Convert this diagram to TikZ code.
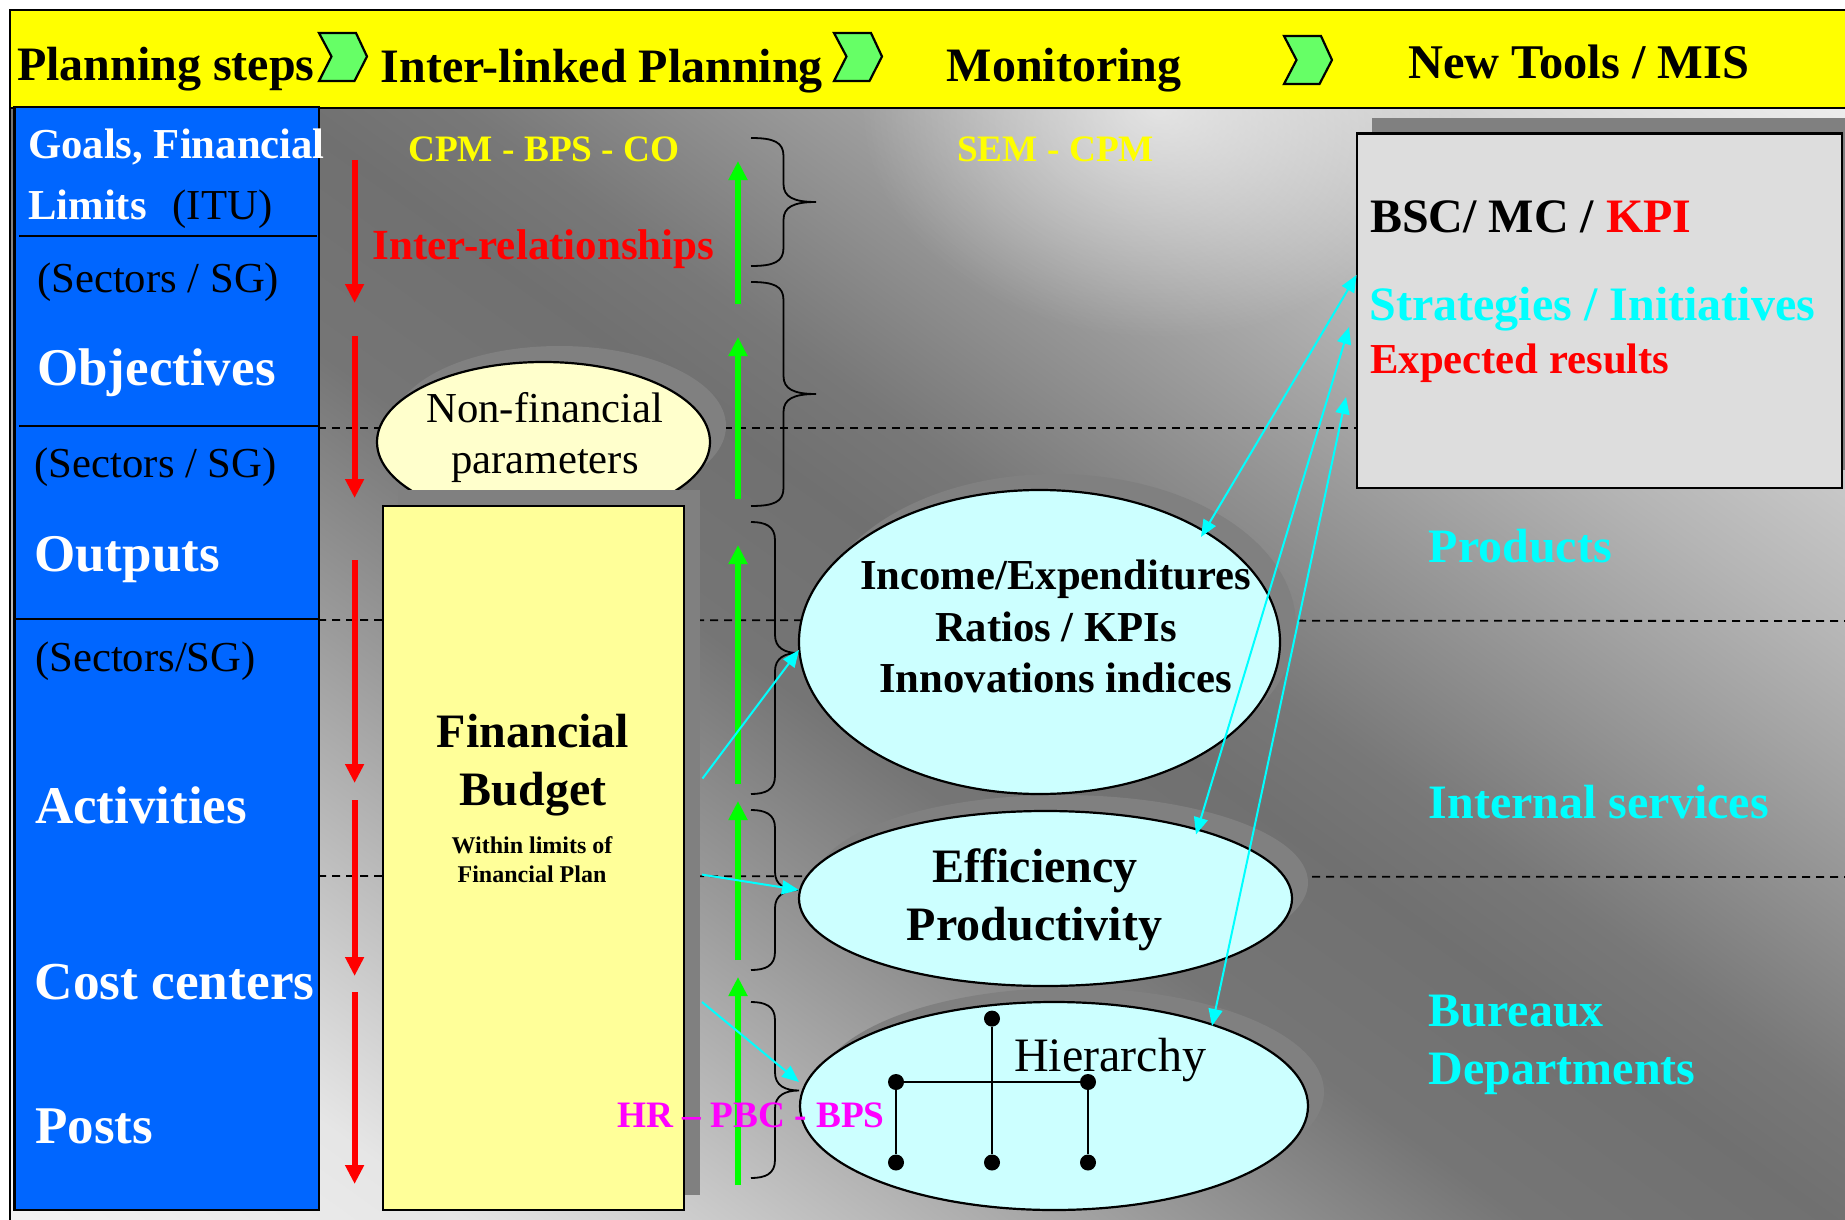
\documentclass[tikz,border=0pt]{standalone}
\usepackage{fontspec}
\setmainfont{Liberation Serif}
\usetikzlibrary{arrows.meta,shapes.geometric,fadings}
\definecolor{gA}{gray}{0.95}
\definecolor{gB}{gray}{0.90}
\definecolor{gC}{gray}{0.61}
\definecolor{gD}{gray}{0.44}
\definecolor{gE}{gray}{0.64}
\definecolor{gF}{gray}{0.71}
\definecolor{gG}{gray}{0.84}
\definecolor{gH}{gray}{0.93}
\definecolor{gI}{gray}{0.46}
\definecolor{gJ}{gray}{0.47}
\definecolor{blueBox}{HTML}{0066FF}
\definecolor{shadowG}{HTML}{808080}
\definecolor{chev}{HTML}{66FF66}
\definecolor{ltYellow}{HTML}{FFFFCC}
\definecolor{budgetY}{HTML}{FFFF99}
\definecolor{ltCyan}{HTML}{CCFFFF}
\definecolor{boxG}{HTML}{DDDDDD}
\definecolor{pureY}{HTML}{FFFF00}
\definecolor{pureC}{HTML}{00FFFF}
\definecolor{pureM}{HTML}{FF00FF}
\definecolor{pureR}{HTML}{FF0000}
\definecolor{pureG}{HTML}{00FF00}
\pgfdeclareverticalshading{bgshade}{100bp}{color(0bp)=(gA);color(32.33bp)=(gA);color(36.67bp)=(gB);color(43.33bp)=(gC);color(47bp)=(gI);color(50bp)=(gD);color(51.67bp)=(gJ);color(56bp)=(gE);color(57.83bp)=(gF);color(61.67bp)=(gG);color(65.17bp)=(gH);color(100bp)=(gH)}
\tikzfading[name=topglow,inner color=transparent!40,outer color=transparent!100]
\newcommand\fXLb{\fontsize{53}{56}\selectfont\bfseries}
\newcommand\fLb{\fontsize{48}{52}\selectfont\bfseries}
\newcommand\fLr{\fontsize{48}{52}\selectfont}
\newcommand\fMb{\fontsize{42.7}{46}\selectfont\bfseries}
\newcommand\fMr{\fontsize{42.7}{46}\selectfont}
\newcommand\fSb{\fontsize{37.3}{40}\selectfont\bfseries}
\newcommand\fXSb{\fontsize{24}{26}\selectfont\bfseries}
\tikzset{
  x=1pt,y=-1pt,
  lbl/.style={inner sep=0pt,anchor=base west},
  clbl/.style={inner sep=0pt,anchor=base},
  redarr/.style={draw=pureR,line width=6pt,-{Triangle[width=18pt,length=19pt,fill=pureR]}},
  grnarr/.style={draw=pureG,line width=6pt,-{Triangle[width=18pt,length=19pt,fill=pureG]}},
  cyanarr/.style={draw=pureC,line width=2pt,-{Triangle[width=14pt,length=17pt,fill=pureC]}},
  cyanboth/.style={draw=pureC,line width=2pt,{Triangle[width=14pt,length=17pt,fill=pureC]}-{Triangle[width=14pt,length=17pt,fill=pureC]}},
  dashln/.style={draw=black,line width=1.8pt,dash pattern=on 8pt off 6pt},
  bracel/.style={draw=black,line width=1.8pt},
  ell/.style={ellipse,draw=black,line width=2.2pt,inner sep=0pt},
  shad/.style={ellipse,fill=shadowG,inner sep=0pt},
  chevron/.style={draw=black,line width=2.2pt,fill=chev,line join=miter},
  dotn/.style={circle,fill=black,inner sep=0pt,minimum size=16pt},
  treel/.style={draw=black,line width=2.5pt},
}
\newcommand\curly[6]{%
 \draw[bracel] (#1,#4) .. controls ({#2-10},#4) and (#2,{#4+4}) .. (#2,{#4+18})
   -- (#2,{#5-18}) .. controls (#2,{#5-5}) and ({#2+10},#5) .. (#3,#5)
   .. controls ({#2+10},#5) and (#2,{#5+5}) .. (#2,{#5+18})
   -- (#2,{#6-18}) .. controls (#2,{#6-4}) and ({#2-10},#6) .. (#1,#6);}
\begin{document}
\begin{tikzpicture}
\useasboundingbox (0,0) rectangle (1845,1220);
\fill[white] (0,0) rectangle (1845,1220);
% background
\begin{scope}
\clip (10,108) rectangle (1845,1220);
\shade[shading=bgshade,shading angle=-35.7] (-444,-839) rectangle (2556,2161);
\fill[white,path fading=topglow] (1160,108) ellipse [x radius=300,y radius=230];
\end{scope}
% left frame line
\draw[black,line width=2.2pt] (10,108) -- (10,1220);
% dashed lines
\coordinate (dA0) at (318,428); \coordinate (dA1) at (1357,428);
\coordinate (dB0) at (318,620); \coordinate (dB1) at (1845,621);
\coordinate (dC0) at (318,876); \coordinate (dC1) at (1845,877);
\draw[dashln] (dA0) -- (dA1);
\draw[dashln] (dB0) -- (dB1);
\draw[dashln] (dC0) -- (dC1);
% yellow band
\draw[black,line width=2.5pt,fill=pureY] (10,10) rectangle (1850,108);
\draw[chevron] (319,33) -- (356,33) -- (367,56.5) -- (354.5,81) -- (319,81) -- (331.5,56.5) -- cycle;
\draw[chevron] (834,33) -- (871,33) -- (882,56.5) -- (869.5,81) -- (834,81) -- (846.5,56.5) -- cycle;
\draw[chevron] (1284,36) -- (1321,36) -- (1332,60) -- (1319.5,84) -- (1284,84) -- (1296.5,60) -- cycle;
\node[lbl,font=\fLb] (hA) at (17,81) {Planning steps};
\node[lbl,font=\fLb] (hB) at (380.5,83) {Inter-linked Planning};
\node[lbl,font=\fLb] (hC) at (946.5,82) {Monitoring};
\node[lbl,font=\fontsize{48.4}{52}\selectfont\bfseries] (hD) at (1408,79) {New Tools / MIS};
% blue column
\draw[black,line width=2.2pt,fill=blueBox] (14.5,107) rectangle (319,1210);
\coordinate (bA0) at (19,236); \coordinate (bA1) at (317,236);
\coordinate (bB0) at (19,426); \coordinate (bB1) at (319,426);
\coordinate (bC0) at (14,619); \coordinate (bC1) at (319,619);
\draw[black,line width=2.2pt] (bA0) -- (bA1);
\draw[black,line width=2.2pt] (bB0) -- (bB1);
\draw[black,line width=2.2pt] (bC0) -- (bC1);
\node[lbl,font=\fMb,text=white] (cA) at (28,159) {Goals, Financial};
\node[lbl,font=\fMb,text=white] (cB) at (28,219) {Limits};
\node[lbl,font=\fMr] (cC) at (172.5,219) {(ITU)};
\node[lbl,font=\fMr] (cD) at (37,292) {(Sectors / SG)};
\node[lbl,font=\fXLb,text=white] (cE) at (37,385) {Objectives};
\node[lbl,font=\fMr] (cF) at (34.5,477) {(Sectors / SG)};
\node[lbl,font=\fXLb,text=white] (cG) at (34,571) {Outputs};
\node[lbl,font=\fMr] (cH) at (35,671) {(Sectors/SG)};
\node[lbl,font=\fXLb,text=white] (cI) at (35,823) {Activities};
\node[lbl,font=\fontsize{53.3}{56}\selectfont\bfseries,text=white] (cJ) at (34.5,999) {Cost centers};
\node[lbl,font=\fXLb,text=white] (cK) at (35,1143) {Posts};
% non-financial ellipse
\node[shad,minimum width=333pt,minimum height=160pt] (nfS) at (559.5,426) {};
\node[ell,fill=ltYellow,minimum width=333pt,minimum height=160pt] (nf) at (543.5,442) {};
\node[clbl,font=\fMr] (nfA) at (545,422) {Non-financial};
\node[clbl,font=\fMr] (nfB) at (545,473) {parameters};
% budget
\fill[shadowG] (398,489.5) rectangle (700,1195);
\draw[black,line width=2.2pt,fill=budgetY] (382.6,506) rectangle (684,1210);
\node[clbl,font=\fLb] (buA) at (533,747) {Financial};
\node[clbl,font=\fLb] (buB) at (533,805.5) {Budget};
\node[clbl,font=\fXSb] (buC) at (532,853) {Within limits of};
\node[clbl,font=\fXSb] (buD) at (532,882) {Financial Plan};
% grey box
\fill[shadowG] (1372,118) rectangle (1845,470);
\node[draw=black,line width=2.2pt,fill=boxG,inner sep=0pt,minimum width=485.4pt,minimum height=354.4pt] (gb) at (1599.3,310.8) {};
\node[lbl,font=\fLb] (gA1) at (1370,232.5) {BSC/ MC / \textcolor{pureR}{KPI}};
\node[lbl,font=\fLb,text=pureC] (gA2) at (1369.5,320.5) {Strategies / Initiatives};
\node[lbl,font=\fMb,text=pureR] (gA3) at (1370,373.5) {Expected results};
% ellipses
\node[shad,minimum width=481pt,minimum height=304pt] (inS) at (1055.5,626) {};
\node[shad,minimum width=493pt,minimum height=175pt] (efS) at (1061.5,882.5) {};
\node[shad,minimum width=508pt,minimum height=208pt] (hiS) at (1070,1092) {};
\node[ell,fill=ltCyan,minimum width=481pt,minimum height=304pt] (inc) at (1039.5,642) {};
\node[ell,fill=ltCyan,minimum width=493pt,minimum height=175pt] (eff) at (1045.5,898.5) {};
\node[ell,fill=ltCyan,minimum width=508pt,minimum height=208pt] (hie) at (1054,1106) {};
\node[clbl,font=\fMb] (inA) at (1055.5,589) {Income/Expenditures};
\node[clbl,font=\fMb] (inB) at (1056,641) {Ratios / KPIs};
\node[clbl,font=\fMb] (inC) at (1055.5,692) {Innovations indices};
\node[clbl,font=\fLb] (efA) at (1035,882) {Efficiency};
\node[clbl,font=\fLb] (efB) at (1034.5,940) {Productivity};
\node[lbl,font=\fLr] (hiA) at (1014,1071) {Hierarchy};
% tree
\node[dotn] (t1) at (992,1018.6) {};
\node[dotn] (t2) at (992,1162.5) {};
\node[dotn] (t3) at (896,1082) {};
\node[dotn] (t4) at (1088,1082) {};
\node[dotn] (t5) at (896,1162.5) {};
\node[dotn] (t6) at (1088,1162.5) {};
\draw[treel] (t1) -- (t2);
\draw[treel] (t3) -- (t4);
\draw[treel] (t3) -- (t5);
\draw[treel] (t4) -- (t6);
% braces
\curly{751}{783.5}{816}{138}{202}{266}
\curly{751}{783.5}{816}{282}{394}{506}
\curly{751}{775}{798}{522}{653}{794}
\curly{751}{775}{798}{810}{890}{970}
\curly{751}{775}{799}{1002}{1090.5}{1178}
% red arrows
\coordinate (rA0) at (354.6,160); \coordinate (rA1) at (354.6,303);
\coordinate (rB0) at (354.6,336); \coordinate (rB1) at (354.6,498);
\coordinate (rC0) at (354.6,560); \coordinate (rC1) at (354.6,783);
\coordinate (rD0) at (354.6,800); \coordinate (rD1) at (354.6,976);
\coordinate (rE0) at (354.6,992); \coordinate (rE1) at (354.6,1184);
\draw[redarr] (rA0) -- (rA1);
\draw[redarr] (rB0) -- (rB1);
\draw[redarr] (rC0) -- (rC1);
\draw[redarr] (rD0) -- (rD1);
\draw[redarr] (rE0) -- (rE1);
% green arrows
\coordinate (vA0) at (738,304); \coordinate (vA1) at (738,161);
\coordinate (vB0) at (738,499); \coordinate (vB1) at (738,337);
\coordinate (vC0) at (738,784); \coordinate (vC1) at (738,545);
\coordinate (vD0) at (738,960); \coordinate (vD1) at (738,801);
\coordinate (vE0) at (738,1185); \coordinate (vE1) at (738,977);
\draw[grnarr] (vA0) -- (vA1);
\draw[grnarr] (vB0) -- (vB1);
\draw[grnarr] (vC0) -- (vC1);
\draw[grnarr] (vD0) -- (vD1);
\draw[grnarr] (vE0) -- (vE1);
% cyan arrows
\coordinate (aA0) at (702.5,778.5); \coordinate (aA1) at (799,650);
\coordinate (aB0) at (702,874.6); \coordinate (aB1) at (799,890);
\coordinate (aC0) at (702,1002); \coordinate (aC1) at (799,1082);
\draw[cyanarr] (aA0) -- (aA1);
\draw[cyanarr] (aB0) -- (aB1);
\draw[cyanarr] (aC0) -- (aC1);
\coordinate (kA0) at (1356.6,275); \coordinate (kA1) at (1201,537);
\coordinate (kB0) at (1349,327); \coordinate (kB1) at (1196,834.5);
\coordinate (kC0) at (1346,397); \coordinate (kC1) at (1212,1026);
\draw[cyanboth] (kA0) -- (kA1);
\draw[cyanboth] (kB0) -- (kB1);
\draw[cyanboth] (kC0) -- (kC1);
% free labels
\node[lbl,font=\fSb,text=pureY] (lA) at (408,162) {CPM - BPS - CO};
\node[lbl,font=\fSb,text=pureY] (lB) at (957,162) {SEM - CPM};
\node[lbl,font=\fontsize{43}{46}\selectfont\bfseries,text=pureR] (lC) at (372.6,259) {Inter-relationships};
\node[lbl,font=\fSb,text=pureM] (lD) at (617,1127.5) {HR -- PBC - BPS};
\node[lbl,font=\fLb,text=pureC] (lE) at (1428.6,562.7) {Products};
\node[lbl,font=\fLb,text=pureC] (lF) at (1428.6,818) {Internal services};
\node[lbl,font=\fLb,text=pureC] (lG) at (1428.6,1026.6) {Bureaux};
\node[lbl,font=\fLb,text=pureC] (lH) at (1428.6,1084) {Departments};
\end{tikzpicture}
\end{document}
